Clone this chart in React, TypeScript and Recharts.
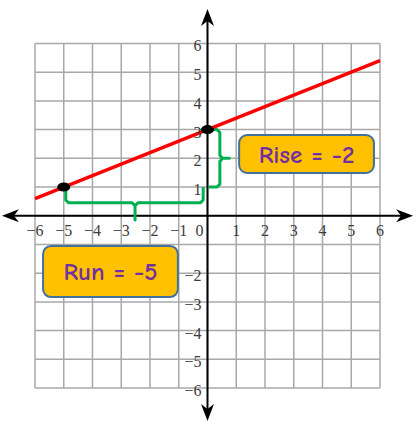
import React from "react";
import {
  ComposedChart,
  Line,
  Scatter,
  XAxis,
  YAxis,
  ReferenceLine,
  ReferenceDot,
  ReferenceArea,
} from "recharts";

// grid values (units on both axes)
const gridValues = [-6, -5, -4, -3, -2, -1, 0, 1, 2, 3, 4, 5, 6];

// tick labels along the x axis
const xTicks = [-6, -5, -4, -3, -2, -1, 0, 1, 2, 3, 4, 5, 6];
const xTickLabels = ["−6", "−5", "−4", "−3", "−2", "−1", "0", "1", "2", "3", "4", "5", "6"];

// tick labels along the y axis (-1 and 0 are not labelled in the source)
const yTicks = [6, 5, 4, 3, 2, 1, -2, -3, -4, -5, -6];
const yTickLabels = ["6", "5", "4", "3", "2", "1", "−2", "−3", "−4", "−5", "−6"];

// the red line y = 0.4x + 3
const lineX = [-6, 6];
const lineY = [0.6, 5.4];

// the two marked points
const pointX = [-5, 0];
const pointY = [1, 3];

// green "run" brace under the segment
const runBraceX = [-4.93, -4.93, -4.83, -2.62, -2.52, -2.52, -2.52, -2.42, -0.25, -0.15, -0.15];
const runBraceY = [1.0, 0.55, 0.45, 0.45, 0.35, -0.15, 0.35, 0.45, 0.45, 0.55, 1.0];

// green "rise" brace beside the y axis
const riseBraceX = [0.05, 0.33, 0.43, 0.43, 0.53, 0.76, 0.53, 0.43, 0.43, 0.33, 0.05];
const riseBraceY = [3.0, 3.0, 2.9, 2.1, 2.0, 2.0, 2.0, 1.9, 1.1, 1.0, 1.0];

const redLine = lineX.map((x, i) => ({ x, y: lineY[i] }));
const points = pointX.map((x, i) => ({ x, y: pointY[i] }));
const runBrace = runBraceX.map((x, i) => ({ x, y: runBraceY[i] }));
const riseBrace = riseBraceX.map((x, i) => ({ x, y: riseBraceY[i] }));

const GRID = "#a8a8a8";
const LABEL = "#3c3c3c";
const GREEN = "#00b050";
const serif = "'Liberation Serif', 'Times New Roman', serif";
const boxFont = "'Comic Sans MS', 'Comic Neue', 'Noto Sans', sans-serif";

const arrow = (angle: number) => (p: any) => (
  <path
    d={`M${p.cx},${p.cy} L${p.cx + 6.5},${p.cy + 17} L${p.cx},${p.cy + 12} L${p.cx - 6.5},${p.cy + 17} Z`}
    transform={`rotate(${angle} ${p.cx} ${p.cy})`}
    fill="#000"
  />
);

const calloutBox = (text: string) => (p: any) => (
  <g>
    <rect
      x={p.x}
      y={p.y}
      width={p.width}
      height={p.height}
      rx={8}
      ry={8}
      fill="#ffc000"
      fillOpacity={1}
      stroke="#41719c"
      strokeWidth={2}
    />
    <text
      x={p.x + p.width / 2}
      y={p.y + p.height / 2 + 8.5}
      textAnchor="middle"
      fontFamily={boxFont}
      fontSize={25}
      fontWeight={700}
      fill="#7030a0"
      style={{ whiteSpace: "pre" }}
    >
      {text}
    </text>
  </g>
);

export default function App() {
  return (
    <div style={{ position: "absolute", left: 0, top: 0, background: "#fff" }}>
      <ComposedChart
        width={417}
        height={429}
        margin={{ top: 3.25, right: 2.5, bottom: 0.75, left: 0.5 }}
      >
        <XAxis type="number" dataKey="x" domain={[-7.2, 7.2]} allowDataOverflow hide />
        <YAxis type="number" dataKey="y" domain={[-7.4, 7.4]} allowDataOverflow hide />

        {gridValues.map((v) => (
          <ReferenceLine
            key={`gv${v}`}
            segment={[{ x: v, y: -6 }, { x: v, y: 6 }]}
            stroke={GRID}
            strokeWidth={1.5}
            zIndex={-50}
          />
        ))}
        {gridValues.map((v) => (
          <ReferenceLine
            key={`gh${v}`}
            segment={[{ x: -6, y: v }, { x: 6, y: v }]}
            stroke={GRID}
            strokeWidth={1.5}
            zIndex={-50}
          />
        ))}

        <ReferenceLine segment={[{ x: -7.0, y: 0 }, { x: 7.0, y: 0 }]} stroke="#000" strokeWidth={2} zIndex={-40} />
        <ReferenceLine segment={[{ x: 0, y: -7.0 }, { x: 0, y: 7.05 }]} stroke="#000" strokeWidth={2} zIndex={-40} />
        <ReferenceDot x={-7.15} y={0} r={1} shape={arrow(-90)} />
        <ReferenceDot x={7.15} y={0} r={1} shape={arrow(90)} />
        <ReferenceDot x={0} y={7.2} r={1} shape={arrow(0)} />
        <ReferenceDot x={0} y={-7.15} r={1} shape={arrow(180)} />

        {xTicks.map((v, i) => (
          <ReferenceDot
            key={`xt${v}`}
            x={v}
            y={0}
            r={1}
            shape={(p: any) => (
              <text
                x={p.cx + (v === 0 ? -8 : 0)}
                y={p.cy + 20}
                textAnchor="middle"
                fontFamily={serif}
                fontSize={16}
                fill={LABEL}
              >
                {xTickLabels[i]}
              </text>
            )}
          />
        ))}
        {yTicks.map((v, i) => (
          <ReferenceDot
            key={`yt${v}`}
            x={0}
            y={v}
            r={1}
            shape={(p: any) => (
              <text
                x={p.cx - 6}
                y={p.cy + 8}
                textAnchor="end"
                fontFamily={serif}
                fontSize={16}
                fill={LABEL}
              >
                {yTickLabels[i]}
              </text>
            )}
          />
        ))}

        <Line
          data={runBrace}
          dataKey="y"
          stroke={GREEN}
          strokeWidth={3}
          strokeLinejoin="round"
          dot={false}
          activeDot={false}
          isAnimationActive={false}
        />
        <Line
          data={riseBrace}
          dataKey="y"
          stroke={GREEN}
          strokeWidth={3}
          strokeLinejoin="round"
          dot={false}
          activeDot={false}
          isAnimationActive={false}
        />
        <Line
          data={redLine}
          dataKey="y"
          stroke="#ff0000"
          strokeWidth={3.5}
          dot={false}
          activeDot={false}
          isAnimationActive={false}
        />
        <Scatter
          data={points}
          dataKey="y"
          isAnimationActive={false}
          shape={(p: any) => <ellipse cx={p.cx} cy={p.cy} rx={6.5} ry={4.5} fill="#000" />}
        />

        <ReferenceArea
          x1={1.1}
          x2={5.79}
          y1={1.49}
          y2={2.81}
          zIndex={2000}
          shape={calloutBox("Rise = -2")}
        />
        <ReferenceArea
          x1={-5.72}
          x2={-1.03}
          y1={-2.83}
          y2={-1.05}
          zIndex={2000}
          shape={calloutBox("Run = -5")}
        />
      </ComposedChart>
    </div>
  );
}
